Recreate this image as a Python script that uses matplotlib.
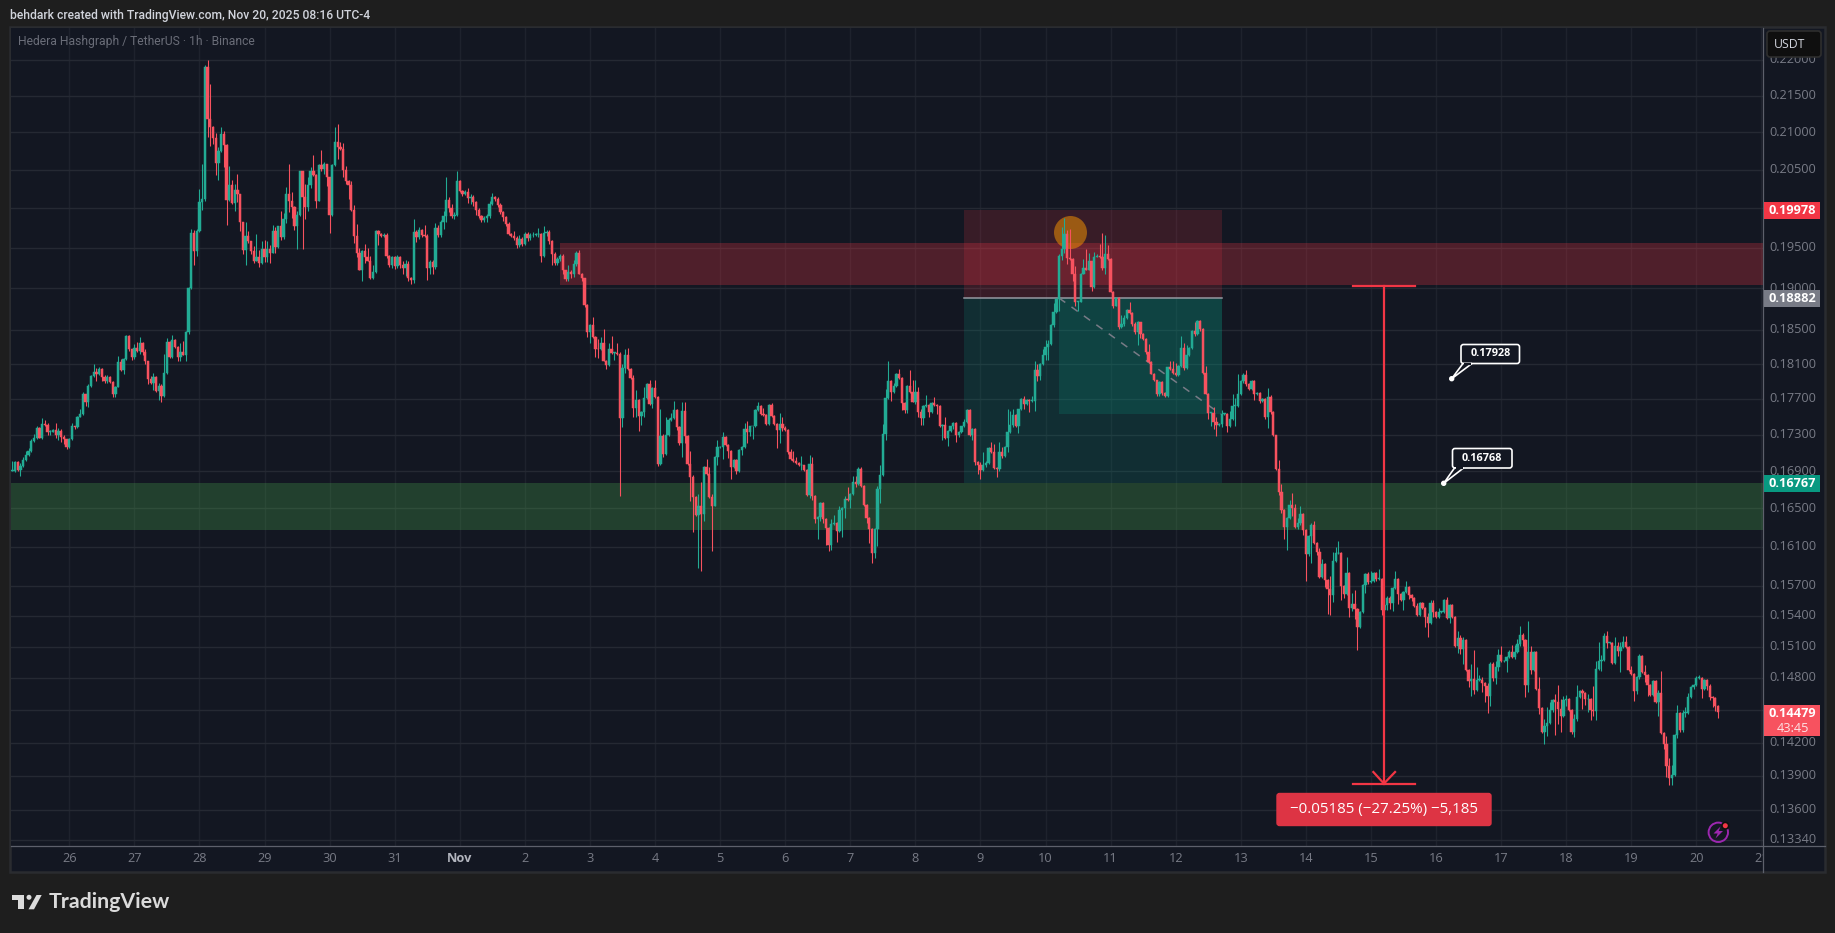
import numpy as np
import matplotlib
matplotlib.use("Agg")
import matplotlib.pyplot as plt
from matplotlib.patches import Rectangle, Circle, Polygon, FancyBboxPatch

# ---------- data (prices in 1e-4 USDT, one row per day, hourly candles) ----------
closes = [
 1690,1700,1691,1695,1702,1707,1712,1723,1726,1737,1726,1742,1741,1733,1733,1735,1730,1734,1727,1725,1716,
 1725,1739,1738,1750,1753,1775,1766,1785,1796,1801,1798,1804,1795,1790,1795,1789,1776,1784,1812,1803,1816,1843,1827,1818,
 1829,1825,1835,1824,1813,1793,1788,1795,1779,1785,1773,1800,1836,1818,1838,1830,1818,1824,1821,1848,1900,1968,1946,1971,
 2008,2012,2190,2118,2107,2092,2059,2075,2097,2083,2011,2030,2007,2024,2018,1982,1947,1965,1958,1946,1934,1939,1931,1949,
 1939,1949,1944,1971,1951,1977,1964,1986,2018,2010,2002,1977,1992,2048,2015,2002,2030,2049,2043,2010,2056,2051,2057,2040,
 1992,2056,2087,2080,2078,2050,2035,2030,1998,1965,1944,1923,1946,1939,1934,1912,1920,1971,1967,1965,1966,1940,1928,1938,
 1927,1938,1929,1925,1930,1912,1910,1970,1963,1972,1966,1965,1925,1932,1926,1975,1966,1982,1990,2011,2000,1990,1992,2035,
 2022,2019,2021,2013,2015,2008,1998,1990,1985,1988,1990,2006,2015,2012,2004,1995,1989,1980,1967,1965,1962,1953,1961,1955,
 1967,1962,1966,1966,1967,1967,1940,1969,1970,1958,1942,1931,1936,1940,1922,1911,1920,1917,1930,1944,1918,1912,1880,1847,
 1856,1842,1828,1827,1834,1814,1809,1827,1823,1823,1822,1748,1805,1821,1804,1794,1760,1769,1751,1755,1771,1787,1764,1782,
 1772,1698,1728,1708,1729,1746,1748,1757,1738,1721,1756,1728,1698,1684,1662,1643,1653,1644,1694,1687,1662,1653,1705,1716,
 1716,1727,1718,1712,1694,1702,1690,1713,1716,1736,1733,1739,1739,1757,1762,1753,1752,1742,1763,1751,1742,1735,1742,1737,
 1735,1711,1703,1701,1699,1696,1696,1691,1664,1698,1663,1639,1641,1656,1639,1629,1612,1634,1635,1626,1648,1650,1660,1659,
 1665,1678,1676,1692,1674,1654,1640,1628,1603,1628,1671,1686,1731,1771,1790,1778,1785,1799,1794,1765,1757,1785,1778,1767,
 1778,1755,1748,1762,1763,1755,1765,1763,1762,1739,1741,1726,1734,1739,1743,1730,1733,1739,1744,1757,1729,1736,1700,1697,
 1691,1696,1699,1715,1711,1693,1692,1711,1706,1716,1733,1741,1752,1739,1758,1770,1764,1769,1768,1768,1803,1796,1810,1820,
 1830,1833,1856,1871,1887,1940,1948,1967,1937,1936,1918,1884,1884,1918,1925,1923,1933,1901,1939,1940,1938,1925,1942,1936,
 1896,1879,1888,1853,1857,1864,1874,1870,1857,1847,1859,1845,1839,1824,1812,1799,1791,1776,1789,1777,1773,1806,1804,1800,
 1797,1808,1829,1805,1820,1829,1849,1845,1861,1851,1800,1776,1754,1754,1744,1741,1742,1753,1753,1740,1747,1762,1762,1776,
 1790,1797,1787,1781,1790,1775,1777,1768,1770,1749,1772,1755,1729,1692,1667,1648,1630,1640,1654,1650,1630,1635,1644,1627,
 1602,1621,1633,1614,1604,1579,1592,1576,1567,1561,1595,1603,1603,1570,1562,1583,1548,1552,1547,1529,1544,1571,1582,1574,
 1575,1583,1577,1577,1546,1551,1558,1553,1568,1577,1562,1556,1564,1569,1561,1558,1550,1541,1553,1548,1539,1533,1553,1544,
 1539,1544,1544,1556,1538,1551,1539,1511,1518,1508,1516,1488,1477,1479,1469,1478,1478,1475,1472,1463,1493,1480,1490,1502,
 1496,1496,1500,1505,1500,1505,1513,1521,1516,1473,1505,1488,1505,1470,1452,1430,1435,1438,1450,1459,1457,1451,1444,1459,
 1460,1450,1430,1442,1462,1468,1466,1460,1460,1450,1449,1489,1496,1497,1520,1514,1514,1494,1511,1506,1510,1515,1510,1488,
 1484,1468,1481,1501,1486,1483,1473,1464,1477,1457,1466,1429,1419,1399,1388,1391,1427,1447,1431,1447,1447,1462,1471,1473,
 1480,1480,1470,1478,1472,1462,1461,1454,1447.9,
]
wick_up = [
 11,1,1,4,3,5,3,2,5,2,1,6,4,2,2,1,8,3,2,2,0,
 1,4,1,1,6,3,1,2,1,9,4,3,1,2,2,1,1,1,7,4,1,1,1,1,
 4,7,7,1,4,1,3,5,1,3,2,22,5,1,6,1,1,10,13,1,1,6,5,3,
 17,45,3,9,48,1,7,5,10,5,1,25,7,8,21,1,1,18,6,1,6,28,8,10,
 11,9,5,8,5,1,19,8,10,39,11,1,4,1,1,17,10,5,20,1,1,20,3,1,
 1,1,20,24,7,8,5,1,5,6,15,6,1,9,11,6,8,1,1,1,3,2,1,2,
 2,3,2,4,5,3,2,16,3,4,2,13,2,3,3,6,4,3,6,30,3,5,3,14,
 1,2,3,5,3,2,2,2,1,2,3,3,5,1,2,3,2,1,3,1,6,3,5,2,
 3,3,3,4,2,8,1,8,3,2,2,3,3,2,2,1,8,3,5,2,3,1,1,1,
 1,9,1,11,8,17,1,8,16,1,12,2,5,7,8,1,3,11,1,1,13,1,5,1,
 9,1,30,3,20,2,6,11,2,1,10,10,1,14,2,1,12,25,1,9,7,3,1,8,
 1,6,1,1,1,1,1,1,1,7,9,1,1,1,5,1,7,1,1,2,1,1,12,7,
 3,1,3,9,4,1,10,1,1,9,7,1,1,1,1,1,1,5,8,1,5,1,3,13,
 1,7,7,2,2,1,1,1,1,1,3,10,11,10,23,1,3,1,5,1,1,1,18,14,
 13,5,3,1,11,1,1,7,1,1,1,8,1,1,1,1,1,1,3,2,1,1,1,1,
 3,15,2,1,7,8,1,11,5,1,25,15,7,1,1,1,3,1,1,5,11,7,1,7,
 8,5,1,11,1,2,28,21,5,37,1,9,1,1,11,23,11,1,6,2,15,30,24,12,
 1,1,1,1,11,4,1,9,1,2,2,1,1,1,9,1,1,1,1,1,1,1,7,9,
 11,1,14,5,12,1,1,11,1,1,1,8,1,1,7,5,1,4,1,1,9,13,9,23,
 1,3,6,1,1,1,1,1,1,1,10,2,1,1,10,9,1,1,5,12,5,5,9,1,
 1,1,2,4,1,5,5,1,1,13,9,7,13,1,1,16,1,11,14,1,1,1,1,2,
 10,1,1,10,1,15,2,2,1,8,1,1,1,6,1,1,1,3,1,1,1,4,3,3,
 1,4,1,1,3,1,1,1,7,3,3,1,1,14,28,12,5,3,1,3,2,2,6,6,
 9,1,1,2,7,7,4,9,2,1,30,6,1,1,11,1,7,15,7,1,6,16,9,4,
 4,1,1,4,11,1,2,1,5,1,22,7,19,5,3,5,1,1,8,4,5,5,5,1,
 3,1,1,2,1,6,1,1,1,1,3,21,1,7,7,9,1,8,1,3,6,4,1,1,
 2,3,1,1,1,2,1,1,1,
]
wick_down = [
 0,1,1,6,1,1,1,1,1,1,0,1,1,3,4,0,4,6,5,6,2,
 1,1,2,1,0,1,4,5,1,1,8,1,5,2,2,1,4,4,0,1,4,1,2,3,
 2,1,3,3,3,6,1,8,1,10,7,1,1,1,1,1,4,5,1,7,3,1,17,6,
 1,10,2,25,25,8,16,23,1,29,32,2,1,11,10,11,5,18,2,4,3,1,5,1,
 7,7,13,1,8,1,4,3,5,15,14,4,28,2,66,16,6,4,1,9,1,3,6,11,
 24,2,1,16,2,9,3,18,1,9,5,1,14,8,1,1,1,1,14,1,2,3,2,3,
 3,2,4,7,10,3,5,3,6,2,2,2,15,8,8,2,2,3,8,8,5,3,4,2,
 1,3,2,6,8,5,7,2,3,3,5,3,2,3,2,2,5,3,1,2,2,3,2,3,
 2,3,2,2,1,3,8,2,4,3,14,3,2,2,5,2,2,5,3,3,1,3,3,5,
 13,1,10,10,1,1,5,1,1,8,1,85,10,5,1,1,10,10,17,10,6,1,1,4,
 1,3,1,3,1,1,1,1,3,3,16,7,2,26,37,1,55,59,7,1,1,48,1,8,
 1,13,1,8,13,1,3,1,6,1,12,5,14,1,1,1,1,1,1,1,1,20,14,3,
 1,3,1,1,1,1,5,1,1,3,4,4,21,4,4,17,7,5,1,11,1,28,10,1,
 9,1,3,1,1,1,5,14,10,5,17,15,1,7,1,10,1,1,1,8,3,3,1,1,
 3,6,7,7,1,5,1,1,9,1,15,1,9,1,3,8,3,1,1,1,1,5,3,10,
 10,1,2,1,1,1,8,2,2,1,5,1,3,1,7,1,5,1,13,1,12,6,4,1,
 5,15,1,2,1,15,5,5,7,1,9,5,12,1,1,1,1,4,1,1,1,2,8,1,
 1,3,1,2,1,2,1,1,2,2,15,4,1,2,1,1,1,3,3,3,1,1,1,1,
 1,1,1,2,1,1,1,2,1,2,1,1,7,14,8,13,1,4,1,7,2,1,23,1,
 2,2,2,1,1,6,1,3,1,2,12,2,1,1,3,3,12,23,1,8,1,2,2,5,
 27,2,28,1,3,1,1,7,25,20,7,1,1,14,4,1,9,3,10,22,1,1,8,2,
 1,1,2,1,5,1,5,6,8,1,10,1,10,1,4,3,1,1,1,1,10,14,1,5,
 1,1,1,1,1,5,1,1,7,5,15,1,6,14,4,1,1,8,15,16,9,3,6,3,
 1,1,10,1,1,2,1,2,5,11,6,4,1,1,6,1,11,9,1,2,30,14,14,1,
 5,1,2,5,2,1,15,5,12,9,5,8,1,9,1,5,1,1,1,5,20,1,1,1,
 1,10,3,2,1,7,10,1,1,1,13,1,5,10,6,6,1,3,1,1,4,1,1,1,
 1,1,9,1,3,3,8,5,5,
]
price_ticks = [0.22,0.215,0.21,0.205,0.2,0.195,0.19,0.185,0.181,0.177,0.173,0.169,0.165,0.161,
               0.157,0.154,0.151,0.148,0.145,0.142,0.139,0.136,0.1334]
hidden_price_labels = [0.2, 0.145]
day_labels = ['26','27','28','29','30','31','Nov','2','3','4','5','6','7','8','9','10','11','12','13','14','15','16','17','18','19','20','21']
first_hour = -21
sell_zone = [0.19035, 0.19563]
buy_zone = [0.16275, 0.16771]
entry, stop, target, inner_low = 0.18882, 0.19978, 0.16767, 0.17528
last_price = 0.14479
range_top, range_bottom = 0.19034, 0.13831
peak_price = 0.19696

BG, PANEL, BORDER = '#1e1e1e', '#131722', '#2a2c30'
UP, DOWN = '#22ab94', '#f7525f'
TXT = '#787b86'
plt.rcParams['font.family'] = ['Open Sans', 'DejaVu Sans']
HEAD = ['Roboto', 'DejaVu Sans']

W, H = 1835, 933
fig = plt.figure(figsize=(W/100, H/100), dpi=100, facecolor=BG)

def rect(l, t, r, b):
    return [l/W, 1-b/H, (r-l)/W, (b-t)/H]

back = fig.add_axes([0, 0, 1, 1], zorder=0)
back.set_xlim(0, W); back.set_ylim(H, 0); back.axis('off')
back.add_patch(Rectangle((9.5, 27), 1815.5, 845, fc=PANEL, ec=BORDER, lw=1.8))

ax = fig.add_axes(rect(11, 28, 1763.3, 845.7), zorder=1, facecolor=PANEL)
ax.set_yscale('log')
ax.set_xlim(-21.5, 624.7)
ax.set_ylim(0.13291, 0.22451)
for s in ax.spines.values():
    s.set_visible(False)
ax.set_yticks(price_ticks); ax.set_yticks([], minor=True)
day_hours = [24*i for i in range(len(day_labels))]
ax.set_xticks(day_hours)
ax.tick_params(length=0, labelleft=False, labelbottom=False, which='both')
ax.grid(axis='y', color='#252933', lw=1.0, zorder=0)
ax.grid(axis='x', color='#1e222d', lw=1.0, zorder=0)
ax.set_axisbelow(True)

# zones and position tool
ax.axhspan(sell_zone[0], sell_zone[1], xmin=(181+21.5)/646.2, color='#f23645', alpha=0.27, lw=0, zorder=1)
ax.axhspan(buy_zone[0], buy_zone[1], color='#4caf50', alpha=0.27, lw=0, zorder=1)
ax.fill_between([330, 425], entry, stop, color='#f23645', alpha=0.17, lw=0, zorder=1.1)
ax.fill_between([330, 425], target, entry, color='#089981', alpha=0.18, lw=0, zorder=1.1)
ax.fill_between([365, 425], inner_low, entry, color='#089981', alpha=0.2, lw=0, zorder=1.2)
ax.plot([330, 425], [entry, entry], color='#9598a1', lw=1.1, zorder=1.3)
ax.plot([365, 424.6], [entry, inner_low], color='#787b86', lw=1.1, ls=(0, (5, 5)), zorder=3)
ax.scatter([369.1], [peak_price], s=564, color='#ff9800', alpha=0.5, lw=0, zorder=1.5)

# candles
c = np.array(closes, float)/1e4
u = np.array(wick_up, float)/1e4
d = np.array(wick_down, float)/1e4
o = np.r_[c[0], c[:-1]]
hours = np.arange(len(c)) + first_hour
top, bot = np.maximum(o, c), np.minimum(o, c)
cols = np.where(c >= o, UP, DOWN)
ax.vlines(hours, bot-d, top+u, colors=cols, lw=0.78, zorder=4)
ax.bar(hours, np.maximum(top-bot, 0.00006), bottom=bot, width=0.85, color=cols, edgecolor=cols, lw=0.35, zorder=5)

# price range tool
RNG = '#f23645'
ax.plot([484.8, 484.8], [range_top, range_bottom], color=RNG, lw=1.6, zorder=6)
ax.plot([473.4, 496.1], [range_top, range_top], color=RNG, lw=1.6, zorder=6)
ax.plot([473.4, 496.1], [range_bottom, range_bottom], color=RNG, lw=1.6, zorder=6)
ax.plot([480.9, 484.8, 488.9], [0.13934, range_bottom, 0.13934], color=RNG, lw=1.6, zorder=6)

# UI layer in pixels
ui = fig.add_axes([0, 0, 1, 1], zorder=5, facecolor='none')
ui.set_xlim(0, W); ui.set_ylim(H, 0); ui.axis('off')

def py(price):
    return 28 + (np.log(0.22451) - np.log(price)) / (np.log(0.22451) - np.log(0.13291)) * 817.7

def hx(hour):
    return 11 + (hour + 21.5) / 646.2 * 1752.3

# price labels
for p in price_ticks:
    if p in hidden_price_labels:
        continue
    ui.text(1792.5, py(p), f'{p:.5f}', color=TXT, fontsize=9.2, ha='center', va='center', zorder=2)

# day labels; the last one runs under the price scale
for h, lab in zip(day_hours, day_labels):
    bold = lab == 'Nov'
    ui.text(hx(h), 858, lab, color='#b2b5be' if bold else TXT, fontsize=9.2, ha='center', va='center',
            fontweight='bold' if bold else 'normal', zorder=2)
ui.add_patch(Rectangle((1763.3, 847), 61, 24, fc=PANEL, ec='none', zorder=2.5))

# axes separators
ui.plot([1763.3, 1763.3], [28, 872], color='#5d606b', lw=0.9, zorder=2.6)
ui.plot([11, 1825], [845.7, 845.7], color='#5d606b', lw=0.9, zorder=2.6)

def tag(price, txt, col, tc='white', h=17):
    y = py(price)
    ui.add_patch(Rectangle((1764, y-h/2), 56, h, fc=col, ec='none', zorder=3))
    ui.text(1792.5, y, txt, color=tc, fontsize=9.2, fontweight='bold', ha='center', va='center', zorder=4)

tag(stop, '0.19978', '#f23645')
tag(entry, '0.18882', '#787b86')
tag(target, '0.16767', '#089981')
ui.add_patch(Rectangle((1764, 705), 56, 30.7, fc='#f7525f', ec='none', zorder=3))
ui.text(1792.5, 713.7, f'{last_price:.5f}', color='white', fontsize=9.2, fontweight='bold', ha='center', va='center', zorder=4)
ui.text(1792.5, 728, '43:45', color='#fde3e5', fontsize=9.2, ha='center', va='center', zorder=4)

# USDT button
ui.add_patch(FancyBboxPatch((1767, 31), 54, 26, boxstyle='round,pad=0,rounding_size=3', fc='#0f0f0f', ec='#2e2e2e', lw=1.2, zorder=5))
ui.text(1790, 44.5, 'USDT', color='#d1d4dc', fontsize=8.8, ha='center', va='center', zorder=6)

# header
ui.text(9.5, 15, 'behdark created with TradingView.com, Nov 20, 2025 08:16 UTC-4', color='#d1d4dc', fontsize=8.7,
        fontweight='medium', family=HEAD, ha='left', va='center')
ui.text(18, 41.5, 'Hedera Hashgraph / TetherUS \u00b7 1h \u00b7 Binance', color='#6a6d78', fontsize=8.75, family=HEAD, ha='left', va='center')

# measure label
ui.add_patch(FancyBboxPatch((1277, 793.5), 214, 32, boxstyle='round,pad=0,rounding_size=2.5', fc='#dd3444', ec='#dd3444', lw=1))
ui.text(1384, 809.5, '\u22120.05185 (\u221227.25%) \u22125,185', color='white', fontsize=10.9, fontweight='medium', ha='center', va='center')

# callouts
def callout(l, t, r, b, tail, txt):
    pts = [(l+2, b), (tail[0], tail[1]), (l+11, b)]
    ui.add_patch(FancyBboxPatch((l, t), r-l, b-t, boxstyle='round,pad=0,rounding_size=2.5', fc=PANEL, ec='white', lw=1.2, zorder=7))
    ui.add_patch(Polygon(pts, closed=True, fc=PANEL, ec='white', lw=1.2, zorder=7))
    ui.plot([l+3, l+10], [b, b], color=PANEL, lw=1.6, zorder=8, solid_capstyle='butt')
    ui.add_patch(Circle(tail, 2.0, fc='white', ec='white', zorder=9))
    ui.text((l+r)/2, (t+b)/2, txt, color='white', fontsize=7.8, fontweight='bold', ha='center', va='center', zorder=9)

callout(1461, 344.5, 1519.5, 363.5, (1451.7, 378.7), '0.17928')
callout(1452.5, 448.5, 1512, 468, (1443.7, 483.3), '0.16768')

# bolt icon
ui.add_patch(Circle((1718.3, 832.3), 9.7, fc='none', ec='#9c27b0', lw=1.4, zorder=5))
ui.add_patch(Polygon([(1720.5, 826.5), (1713.5, 833.5), (1717.7, 833.5), (1715.5, 838.5), (1723, 831), (1718.7, 831)],
                     closed=True, fc='#9c27b0', ec='none', zorder=6))
ui.add_patch(Circle((1725.3, 825.7), 4.2, fc='#0f0f0f', ec='none', zorder=6))
ui.add_patch(Circle((1725.3, 825.7), 2.5, fc='#f23645', ec='none', zorder=7))

# logo
LOGO = '#dbdbdb'
ui.add_patch(Polygon([(12, 895), (24, 895), (24, 909.3), (18, 909.3), (18, 899.8), (12, 899.8)], closed=True, fc=LOGO, ec='none'))
ui.add_patch(Circle((29, 897.3), 2.5, fc=LOGO, ec='none'))
ui.add_patch(Polygon([(36.5, 895), (41.7, 895), (34, 909.3), (28.5, 909.3)], closed=True, fc=LOGO, ec='none'))
ui.text(48.5, 902.5, 'TradingView', color=LOGO, fontsize=15.4, fontweight='bold', ha='left', va='center', family=['Lato', 'DejaVu Sans'])

fig.savefig('out.png', dpi=100, facecolor=BG)
